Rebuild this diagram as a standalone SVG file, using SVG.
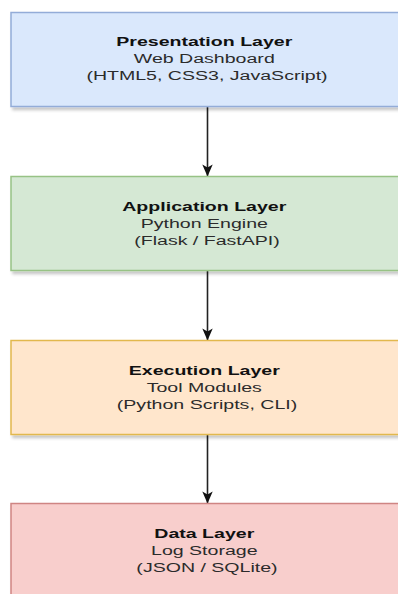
<svg xmlns="http://www.w3.org/2000/svg" width="398" height="594" viewBox="0 0 398 594">
  <style>
    .box { stroke-width: 1.5; filter: url(#shadow); }
    .lbl { font-family: "Liberation Sans", Arial, sans-serif; font-size: 13.5px; text-anchor: middle; fill: #2b2b2b; }
    .ttl { font-weight: bold; fill: #111; }
    .conn { stroke: #222; stroke-width: 1.6; fill: none; marker-end: url(#arrow); }
  </style>
  <defs>
    <filter id="shadow" x="-5%" y="-10%" width="115%" height="130%">
      <feDropShadow dx="2" dy="3" stdDeviation="1.5" flood-color="#000" flood-opacity="0.22"/>
    </filter>
    <marker id="arrow" markerUnits="userSpaceOnUse" viewBox="-13 -6 14 12" markerWidth="14" markerHeight="12" refX="0" refY="0" orient="auto">
      <path d="M0,0 L-12,-5.2 L-9,0 L-12,5.2 Z" fill="#111"/>
    </marker>
  </defs>

  <g id="connectors">
    <line class="conn" x1="207.5" y1="107" x2="207.5" y2="176.5"/>
    <line class="conn" x1="207.5" y1="271" x2="207.5" y2="340.5"/>
    <line class="conn" x1="207.5" y1="435" x2="207.5" y2="503.5"/>
  </g>

  <g id="presentation">
    <rect class="box" x="11" y="12.5" width="392" height="94" fill="#dae8fc" stroke="#93acd8"/>
    <text class="lbl" transform="translate(207 0) scale(1.45 1)">
      <tspan class="ttl" x="0" y="46.5">Presentation Layer</tspan>
      <tspan x="0" y="63.5">Web Dashboard</tspan>
      <tspan x="0" y="80.5">(HTML5, CSS3, JavaScript)</tspan>
    </text>
  </g>

  <g id="application">
    <rect class="box" x="11" y="176.5" width="392" height="94" fill="#d5e8d4" stroke="#97c285"/>
    <text class="lbl" transform="translate(207 0) scale(1.45 1)">
      <tspan class="ttl" x="0" y="211">Application Layer</tspan>
      <tspan x="0" y="228">Python Engine</tspan>
      <tspan x="0" y="245">(Flask / FastAPI)</tspan>
    </text>
  </g>

  <g id="execution">
    <rect class="box" x="11" y="340.5" width="392" height="94" fill="#ffe6cc" stroke="#e2b84e"/>
    <text class="lbl" transform="translate(207 0) scale(1.45 1)">
      <tspan class="ttl" x="0" y="375.5">Execution Layer</tspan>
      <tspan x="0" y="392.5">Tool Modules</tspan>
      <tspan x="0" y="409.5">(Python Scripts, CLI)</tspan>
    </text>
  </g>

  <g id="data">
    <rect class="box" x="11" y="503.5" width="392" height="94" fill="#f8cecc" stroke="#cf8583"/>
    <text class="lbl" transform="translate(207 0) scale(1.45 1)">
      <tspan class="ttl" x="0" y="538.5">Data Layer</tspan>
      <tspan x="0" y="555.5">Log Storage</tspan>
      <tspan x="0" y="572.5">(JSON / SQLite)</tspan>
    </text>
  </g>
</svg>
